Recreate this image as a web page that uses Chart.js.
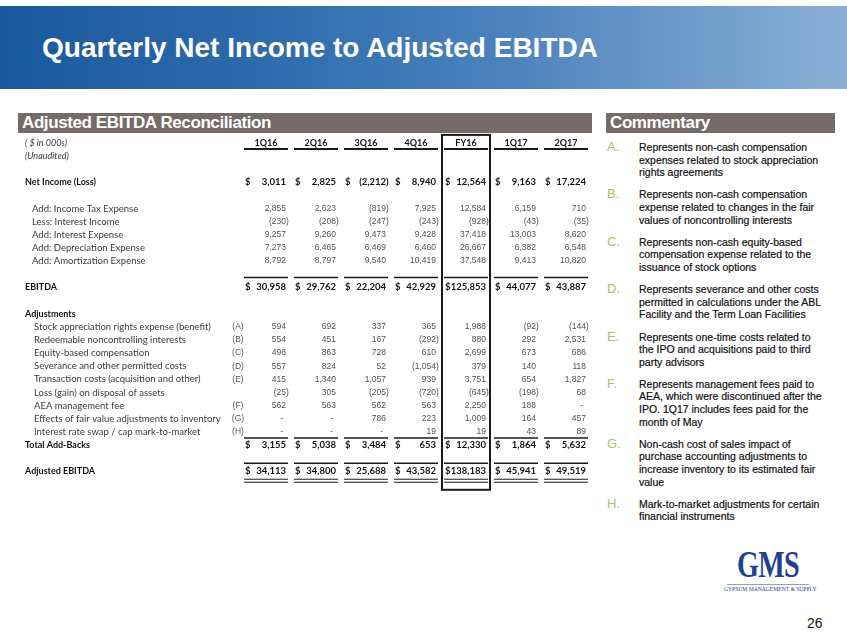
<!DOCTYPE html>
<html>
<head>
<meta charset="utf-8">
<script src="https://cdn.jsdelivr.net/npm/chart.js@4.4.1/dist/chart.umd.min.js"></script>
<style>
  body { margin: 0; width: 847px; height: 635px; background: #fff; position: relative; overflow: hidden; font-family: "Liberation Sans", Arial, sans-serif; }
  #band { position: absolute; left: 0; top: 6px; width: 847px; height: 83px;
          background: linear-gradient(to right, #1b599e 0%, #2c6aac 30%, #4c83bd 60%, #8cb0d6 100%); }
  #title { position: absolute; left: 42px; top: 32px; color: #fff; font: bold 28px "Liberation Sans", Arial, sans-serif; white-space: nowrap; }
  .bar { position: absolute; top: 113px; height: 20px; background: #746c69; color: #fff;
         font: bold 17px/20px "Liberation Sans", Arial, sans-serif; letter-spacing: -0.4px; padding-left: 4px; box-sizing: border-box; white-space: nowrap; }
  #comments { position: absolute; left: 606px; top: 141px; width: 235px; }
  .item { position: relative; padding-left: 33px; margin-bottom: 9.6px; font: 10.5px/12.6px "Liberation Sans", Arial, sans-serif; color: #111; -webkit-text-stroke: 0.2px #111; white-space: nowrap; }
  .item span { position: absolute; left: 1px; top: -1px; font: 13px/14px "Liberation Sans", Arial, sans-serif; color: #a3c365; -webkit-text-stroke: 0; }
  #logo { position: absolute; left: 724px; top: 545px; width: 88px; text-align: center; }
  #gms { font: bold 38px/38px "Liberation Serif", "DejaVu Serif", serif; color: #233f91; transform: scaleX(0.74); letter-spacing: -1px; }
  #rule { height: 1px; background: #8ea0c8; margin: 1px 3px 1px 3px; }
  #tag { font: 5.6px "Liberation Serif", serif; color: #233f91; white-space: nowrap; }
  #page { position: absolute; left: 807px; top: 615px; font: 14px "Liberation Sans", Arial, sans-serif; color: #111; }
</style>
</head>
<body>
<div id="band"></div>
<div id="title">Quarterly Net Income to Adjusted EBITDA</div>
<div class="bar" style="left:18px; width:574px;">Adjusted EBITDA Reconciliation</div>
<div class="bar" style="left:606px; width:229px;">Commentary</div>

<div style="position:absolute; left:18px; top:130px; width:574px; height:365px;">
  <canvas id="table" width="574" height="365"></canvas>
</div>

<div id="comments">
  <div class="item"><span>A.</span>Represents non-cash compensation<br>expenses related to stock appreciation<br>rights agreements</div>
  <div class="item"><span>B.</span>Represents non-cash compensation<br>expense related to changes in the fair<br>values of noncontrolling interests</div>
  <div class="item"><span>C.</span>Represents non-cash equity-based<br>compensation expense related to the<br>issuance of stock options</div>
  <div class="item"><span>D.</span>Represents severance and other costs<br>permitted in calculations under the ABL<br>Facility and the Term Loan Facilities</div>
  <div class="item"><span>E.</span>Represents one-time costs related to<br>the IPO and acquisitions paid to third<br>party advisors</div>
  <div class="item"><span>F.</span>Represents management fees paid to<br>AEA, which were discontinued after the<br>IPO. 1Q17 includes fees paid for the<br>month of May</div>
  <div class="item"><span>G.</span>Non-cash cost of sales impact of<br>purchase accounting adjustments to<br>increase inventory to its estimated fair<br>value</div>
  <div class="item"><span>H.</span>Mark-to-market adjustments for certain<br>financial instruments</div>
</div>

<div id="logo">
  <div id="gms">GMS</div>
  <div id="rule"></div>
  <div id="tag">GYPSUM MANAGEMENT &amp; SUPPLY</div>
</div>
<div id="page">26</div>

<script>
// columns of the table
const columns = ['1Q16', '2Q16', '3Q16', '4Q16', 'FY16', '1Q17', '2Q17'];

// $ in 000s
const netIncome = [3011, 2825, -2212, 8940, 12564, 9163, 17224];

const ebitdaItems = ['Add: Income Tax Expense', 'Less: Interest Income', 'Add: Interest Expense',
                     'Add: Depreciation Expense', 'Add: Amortization Expense'];
const incomeTax = [2855, 2623, -819, 7925, 12584, 6159, 710];
const interestIncome = [-230, -208, -247, -243, -928, -43, -35];
const interestExpense = [9257, 9260, 9473, 9428, 37418, 13003, 8620];
const depreciation = [7273, 6465, 6469, 6460, 26667, 6382, 6548];
const amortization = [8792, 8797, 9540, 10419, 37548, 9413, 10820];

const ebitda = [30958, 29762, 22204, 42929, 125853, 44077, 43887];

const adjustmentItems = ['Stock appreciation rights expense (benefit)', 'Redeemable noncontrolling interests',
                         'Equity-based compensation', 'Severance and other permitted costs',
                         'Transaction costs (acquisition and other)', 'Loss (gain) on disposal of assets',
                         'AEA management fee', 'Effects of fair value adjustments to inventory',
                         'Interest rate swap / cap mark-to-market'];
const adjustmentRefs = ['(A)', '(B)', '(C)', '(D)', '(E)', '', '(F)', '(G)', '(H)'];
const stockAppreciation = [594, 692, 337, 365, 1988, -92, -144];
const redeemableInterests = [554, 451, 167, -292, 880, 292, 2531];
const equityComp = [498, 863, 728, 610, 2699, 673, 686];
const severance = [557, 824, 52, -1054, 379, 140, 118];
const transactionCosts = [415, 1340, 1057, 939, 3751, 654, 1827];
const disposalLoss = [-25, 305, -205, -720, -645, -198, 68];
const aeaFee = [562, 563, 562, 563, 2250, 188, 0];
const fairValueInventory = [0, 0, 786, 223, 1009, 164, 457];
const swapMarkToMarket = [0, 0, 0, 19, 19, 43, 89];

const totalAddBacks = [3155, 5038, 3484, 653, 12330, 1864, 5632];
const adjustedEbitda = [34113, 34800, 25688, 43582, 138183, 45941, 49519];

// row layout of the table ('' = spacer row)
const rowLabels = ['( $ in 000s)', '(Unaudited)', '', 'Net Income (Loss)', '',
  ...ebitdaItems, '', 'EBITDA', '', 'Adjustments', ...adjustmentItems,
  'Total Add-Backs', '', 'Adjusted EBITDA'];

const valueRows = [
  ['Net Income (Loss)', netIncome, true],
  [ebitdaItems[0], incomeTax, false],
  [ebitdaItems[1], interestIncome, false],
  [ebitdaItems[2], interestExpense, false],
  [ebitdaItems[3], depreciation, false],
  [ebitdaItems[4], amortization, false],
  ['EBITDA', ebitda, true],
  [adjustmentItems[0], stockAppreciation, false],
  [adjustmentItems[1], redeemableInterests, false],
  [adjustmentItems[2], equityComp, false],
  [adjustmentItems[3], severance, false],
  [adjustmentItems[4], transactionCosts, false],
  [adjustmentItems[5], disposalLoss, false],
  [adjustmentItems[6], aeaFee, false],
  [adjustmentItems[7], fairValueInventory, false],
  [adjustmentItems[8], swapMarkToMarket, false],
  ['Total Add-Backs', totalAddBacks, true],
  ['Adjusted EBITDA', adjustedEbitda, true]
];

const boldLabels = ['Net Income (Loss)', 'EBITDA', 'Adjustments', 'Total Add-Backs', 'Adjusted EBITDA'];

function fmt(v) {
  return Math.abs(v).toLocaleString('en-US');
}

const tablePlugin = {
  id: 'tableText',
  afterDatasetsDraw(chart) {
    const ctx = chart.ctx;
    const area = chart.chartArea;
    const xs = chart.scales.x;
    const ys = chart.scales.y;
    ctx.save();
    ctx.textBaseline = 'middle';

    // row labels
    rowLabels.forEach((lab, i) => {
      if (!lab) return;
      const py = ys.getPixelForValue(i);
      let px = 7;
      let font = '9.5px Lato';
      let color = '#3a3a3a';
      if (i < 2) font = 'italic 9px Lato';
      if (boldLabels.includes(lab)) { font = 'bold 9px Lato'; color = '#111'; }
      if (ebitdaItems.includes(lab)) px = 14;
      const k = adjustmentItems.indexOf(lab);
      if (k >= 0) {
        px = 16;
        ctx.font = '8.5px "Liberation Sans"';
        ctx.fillStyle = '#555';
        ctx.textAlign = 'center';
        ctx.fillText(adjustmentRefs[k], area.left - 3, py);
      }
      ctx.font = font;
      ctx.fillStyle = color;
      ctx.textAlign = 'left';
      ctx.fillText(lab, px, py);
    });

    // column headers
    const hy = ys.getPixelForValue(0);
    ctx.font = 'bold 9px Lato';
    ctx.fillStyle = '#111';
    ctx.textAlign = 'center';
    columns.forEach((c, j) => ctx.fillText(c, xs.getPixelForValue(j), hy));

    // cell values
    chart.data.datasets.forEach((ds, di) => {
      const meta = chart.getDatasetMeta(di);
      meta.data.forEach((pt, j) => {
        const v = ds.values[j];
        const rx = pt.x + 20;
        if (ds.total) {
          ctx.font = 'bold 9.5px Lato';
          ctx.fillStyle = '#111';
          ctx.textAlign = 'left';
          ctx.fillText('$', pt.x - 21, pt.y);
        } else {
          ctx.font = '8.5px "Liberation Sans"';
          ctx.fillStyle = '#505050';
        }
        if (v === 0) {
          ctx.textAlign = 'right';
          ctx.fillText('-', rx - 3, pt.y);
        } else if (v < 0) {
          ctx.textAlign = 'right';
          ctx.fillText('(' + fmt(v), rx, pt.y);
          ctx.textAlign = 'left';
          ctx.fillText(')', rx, pt.y);
        } else {
          ctx.textAlign = 'right';
          ctx.fillText(fmt(v), rx, pt.y);
        }
      });
    });

    // rules
    ctx.strokeStyle = '#1a1a1a';
    const rule = (yy, w) => {
      ctx.lineWidth = w;
      columns.forEach((c, j) => {
        const cx = xs.getPixelForValue(j);
        ctx.beginPath();
        ctx.moveTo(cx - 22, yy);
        ctx.lineTo(cx + 22, yy);
        ctx.stroke();
      });
    };
    rule(hy + 6, 2);
    rule(ys.getPixelForValue(rowLabels.indexOf('EBITDA')) - 10, 1.5);
    rule(ys.getPixelForValue(rowLabels.indexOf('Total Add-Backs')) - 7, 1.5);
    const ay = ys.getPixelForValue(rowLabels.indexOf('Adjusted EBITDA'));
    rule(ay - 8, 1.5);
    rule(ay + 8, 1);
    rule(ay + 11, 1);

    // FY16 box
    const fx = xs.getPixelForValue(columns.indexOf('FY16'));
    ctx.lineWidth = 2;
    ctx.strokeRect(fx - 24, area.top - 1.5, 48, area.bottom + 12 - area.top + 1.5);
    ctx.restore();
  }
};

const datasets = valueRows.map(([label, values, total]) => ({
  label: label,
  values: values,
  total: total,
  data: columns.map(c => ({ x: c, y: label })),
  pointRadius: 0,
  pointHoverRadius: 0
}));

new Chart(document.getElementById('table'), {
  type: 'scatter',
  data: { datasets: datasets },
  options: {
    responsive: false,
    animation: false,
    events: [],
    layout: { padding: { left: 223, right: 1, top: 6.4, bottom: 17.2 } },
    plugins: { legend: { display: false }, tooltip: { enabled: false } },
    scales: {
      x: { type: 'category', labels: columns, offset: true, display: false },
      y: { type: 'category', labels: rowLabels, offset: true, display: false }
    }
  },
  plugins: [tablePlugin]
});
</script>
</body>
</html>
